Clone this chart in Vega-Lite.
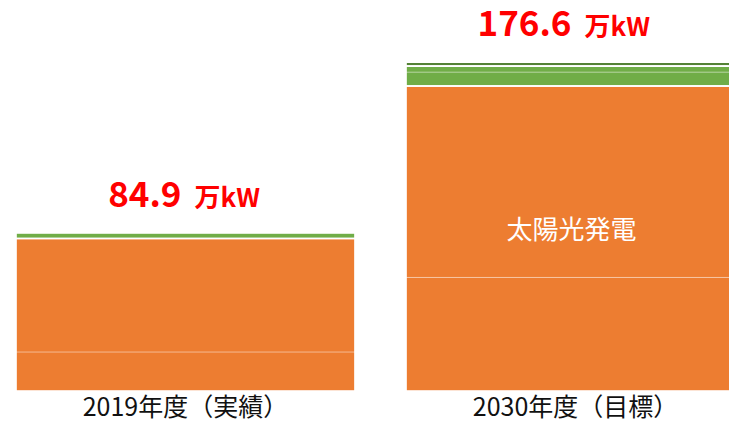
{
  "$schema": "https://vega.github.io/schema/vega-lite/v6.json",
  "width": 729,
  "height": 391,
  "autosize": {"type": "none"},
  "padding": {"left": 0, "top": 0, "right": 0, "bottom": 31},
  "config": {"view": {"stroke": null}, "font": "Noto Sans CJK JP"},
  "data": {"values": [
    {"年度": "2019年度（実績）", "電源": "太陽光発電（10kW未満）", "区分": "太陽光", "順": 1, "万kW": 21.0},
    {"年度": "2019年度（実績）", "電源": "太陽光発電（10kW以上）", "区分": "太陽光", "順": 2, "万kW": 60.9},
    {"年度": "2019年度（実績）", "電源": "風力発電", "区分": "風力", "順": 3, "万kW": 3.0},
    {"年度": "2030年度（目標）", "電源": "太陽光発電（10kW未満）", "区分": "太陽光", "順": 1, "万kW": 61.0},
    {"年度": "2030年度（目標）", "電源": "太陽光発電（10kW以上）", "区分": "太陽光", "順": 2, "万kW": 102.8},
    {"年度": "2030年度（目標）", "電源": "風力発電", "区分": "風力", "順": 3, "万kW": 7.5},
    {"年度": "2030年度（目標）", "電源": "風力発電（洋上）", "区分": "風力", "順": 4, "万kW": 3.2},
    {"年度": "2030年度（目標）", "電源": "バイオマス発電", "区分": "バイオマス", "順": 5, "万kW": 2.1}
  ]},
  "encoding": {
    "x": {
      "field": "年度", "type": "nominal", "sort": null,
      "scale": {"range": [0, 761], "paddingInner": 0.1308, "paddingOuter": 0.041},
      "axis": {"title": null, "domain": false, "ticks": false, "labelAngle": 0, "labelFontSize": 25, "labelLimit": 0, "labelColor": "#111111", "labelPadding": 4, "labelFont": "Noto Sans CJK JP", "labelFontWeight": "normal", "labelBaseline": "top"}
    }
  },
  "layer": [
    {
      "mark": {"type": "bar", "stroke": "white", "strokeWidth": 1, "strokeOpacity": 0.35},
      "encoding": {
        "y": {"field": "万kW", "type": "quantitative", "stack": "zero", "scale": {"domain": [0, 210], "nice": false, "zero": true}, "axis": null},
        "color": {
          "field": "電源", "type": "nominal",
          "scale": {
            "domain": ["太陽光発電（10kW未満）", "太陽光発電（10kW以上）", "風力発電", "風力発電（洋上）", "バイオマス発電"],
            "range": ["#ED7D31", "#ED7D31", "#70AD47", "#70AD47", "#548235"]
          },
          "legend": null
        },
        "order": {"field": "順", "type": "quantitative"}
      }
    },
    {
      "transform": [
        {"aggregate": [{"op": "sum", "field": "万kW", "as": "群計"}, {"op": "min", "field": "順", "as": "群順"}], "groupby": ["年度", "区分"]}
      ],
      "mark": {"type": "bar", "fill": "white", "fillOpacity": 0, "stroke": "white", "strokeWidth": 1.6},
      "encoding": {
        "y": {"field": "群計", "type": "quantitative", "stack": "zero", "axis": null},
        "detail": {"field": "区分"},
        "order": {"field": "群順", "type": "quantitative"}
      }
    },
    {
      "transform": [
        {"aggregate": [{"op": "sum", "field": "万kW", "as": "合計"}], "groupby": ["年度"]}
      ],
      "mark": {"type": "text", "align": "right", "baseline": "alphabetic", "dx": -4, "dy": -26, "fontSize": 35, "fontWeight": "bold", "color": "#FF0000"},
      "encoding": {
        "y": {"field": "合計", "type": "quantitative", "axis": null},
        "text": {"field": "合計", "type": "quantitative", "format": ".1f"}
      }
    },
    {
      "transform": [
        {"aggregate": [{"op": "sum", "field": "万kW", "as": "合計"}], "groupby": ["年度"]}
      ],
      "mark": {"type": "text", "align": "left", "baseline": "alphabetic", "dx": 9, "dy": -26, "fontSize": 26, "fontWeight": "bold", "color": "#FF0000"},
      "encoding": {
        "y": {"field": "合計", "type": "quantitative", "axis": null},
        "text": {"value": "万kW"}
      }
    },
    {
      "transform": [
        {"filter": "datum['区分'] === '太陽光' && datum['年度'] === '2030年度（目標）'"},
        {"aggregate": [{"op": "sum", "field": "万kW", "as": "太陽光計"}], "groupby": ["年度"]},
        {"calculate": "datum['太陽光計'] / 2", "as": "中央"}
      ],
      "mark": {"type": "text", "align": "center", "baseline": "middle", "dx": -4, "dy": -8, "fontSize": 26, "color": "white"},
      "encoding": {
        "y": {"field": "中央", "type": "quantitative", "axis": null},
        "text": {"value": "太陽光発電"}
      }
    }
  ]
}
